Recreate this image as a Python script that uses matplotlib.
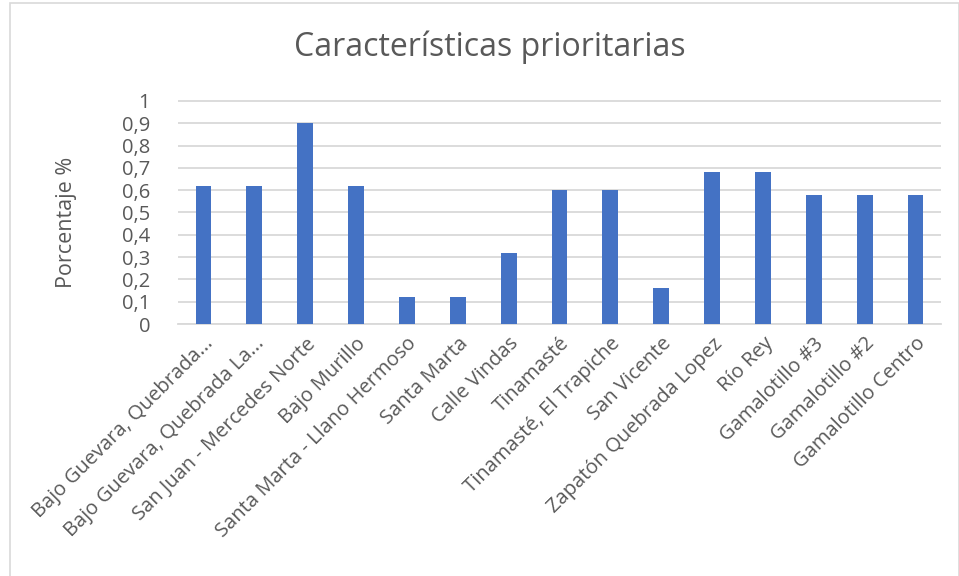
import numpy as np
import matplotlib
matplotlib.use("Agg")
import matplotlib.pyplot as plt
from matplotlib import rcParams
from matplotlib.ticker import FuncFormatter, MultipleLocator
from matplotlib.patches import Rectangle

rcParams['font.family'] = ['Open Sans', 'DejaVu Sans']

categories = ["Bajo Guevara, Quebrada...", "Bajo Guevara, Quebrada La...",
              "San Juan - Mercedes Norte", "Bajo Murillo",
              "Santa Marta - Llano Hermoso", "Santa Marta", "Calle Vindas",
              "Tinamasté", "Tinamasté, El Trapiche", "San Vicente",
              "Zapatón Quebrada Lopez", "Río Rey", "Gamalotillo #3",
              "Gamalotillo #2", "Gamalotillo Centro"]
values = [0.62, 0.62, 0.90, 0.62, 0.12, 0.12, 0.32, 0.60, 0.60, 0.16,
          0.68, 0.68, 0.58, 0.58, 0.58]

txt = "#595959"
fig = plt.figure(figsize=(9.59, 5.76), dpi=100)
fig.patches.append(Rectangle((10/959, -0.01), 0.99, 1.0 - 3/576 + 0.01,
                             transform=fig.transFigure, fill=False,
                             edgecolor="#d9d9d9", linewidth=1.2))

ax = fig.add_axes([178/959, 1 - 324/576, (941 - 178)/959, (324 - 100)/576])
x = np.arange(len(categories))
ax.bar(x, values, width=0.31, color="#4472C4", zorder=3)
ax.set_xlim(-0.5, len(categories) - 0.5)
ax.set_ylim(0, 1.004)
ax.yaxis.set_major_locator(MultipleLocator(0.1))
ax.yaxis.set_major_formatter(FuncFormatter(lambda v, p: ("%g" % round(v, 1)).replace(".", ",")))
ax.grid(axis="y", color="#d9d9d9", linewidth=1.3, zorder=0)
for s in ["top", "right", "left"]:
    ax.spines[s].set_visible(False)
ax.spines["bottom"].set_color("#d9d9d9")
ax.spines["bottom"].set_linewidth(1.3)
ax.tick_params(axis="both", length=0, colors=txt, labelsize=14.5)
ax.tick_params(axis="y", pad=20)
ax.tick_params(axis="x", pad=7)
ax.set_xticks(x)
ax.set_xticklabels(categories, rotation=45, ha="right", rotation_mode="anchor", color=txt)
ax.set_ylabel("Porcentaje %", color=txt, fontsize=15.5)
ax.yaxis.set_label_coords(-101/763, 0.455)

fig.text(490/959, 1 - 47/576, "Características prioritarias", ha="center", va="center",
         fontsize=23, color=txt)

fig.savefig("out.png", dpi=100)
